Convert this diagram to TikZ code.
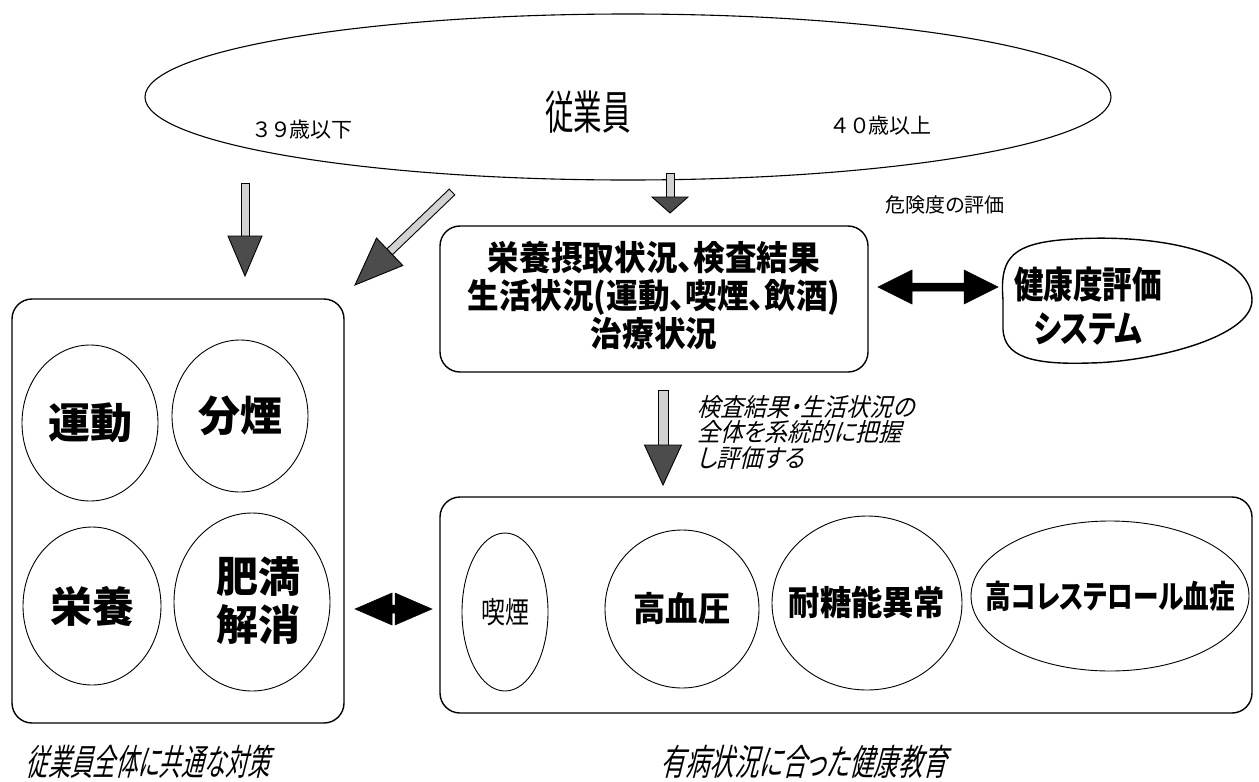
\documentclass[tikz,border=0pt]{standalone}
\usepackage{fontspec}
\setmainfont{Noto Sans CJK JP}[RawFeature=+palt]
\usetikzlibrary{shapes.geometric,calc}
\newcommand\jfs[2]{\fontsize{#1}{#2}\selectfont}
\newcommand\sx[1]{\addfontfeatures{FakeStretch=#1}}
\newcommand\slnt{\addfontfeatures{FakeSlant=0.25}}
\tikzset{
  shaftfill/.style={draw=black,line width=0.9pt,fill=gray!35},
  headfill/.style={draw=black,line width=0.9pt,fill=black!70},
  blackarrow/.style={fill=black,draw=black,line width=0.5pt},
  frame/.style={draw,rounded corners=20pt,line width=1.4pt},
  oval/.style={draw,ellipse,line width=0.9pt,inner sep=0pt},
  lbl/.style={inner sep=0pt,align=center},
}
% block arrow: start, end, shaft half width, head half width, head length
\newcommand\blockarrow[5]{%
  \coordinate (ba-h) at ($(#2)!#5!(#1)$);
  \filldraw[shaftfill] ($(#1)!#3!90:(#2)$) -- ($(ba-h)!#3!-90:(#1)$) -- ($(ba-h)!#3!90:(#1)$) -- ($(#1)!#3!-90:(#2)$) -- cycle;
  \filldraw[headfill] ($(ba-h)!#4!-90:(#1)$) -- (#2) -- ($(ba-h)!#4!90:(#1)$) -- cycle;
}
% double black arrow: a, b, shaft hw, head hw, head length
\newcommand\dblarrow[5]{%
  \coordinate (da-a) at ($(#1)!#5!(#2)$);
  \coordinate (da-b) at ($(#2)!#5!(#1)$);
  \filldraw[blackarrow] (#1) -- ($(da-a)!#4!90:(#2)$) -- ($(da-a)!#3!90:(#2)$) -- ($(da-b)!#3!-90:(#1)$) -- ($(da-b)!#4!-90:(#1)$) -- (#2) -- ($(da-b)!#4!90:(#1)$) -- ($(da-b)!#3!90:(#1)$) -- ($(da-a)!#3!-90:(#2)$) -- ($(da-a)!#4!-90:(#2)$) -- cycle;
}
\begin{document}
\begin{tikzpicture}[x=1pt,y=-1pt]
\useasboundingbox (0,0) rectangle (1259,782);
\fill[white] (0,0) rectangle (1259,782);

% top ellipse
\node[oval,line width=1.1pt,minimum width=966pt,minimum height=166pt] (emp) at (628,97) {};
\node[lbl,font={\jfs{21}{26}}] (young) at (303,130) {３\,９歳以下};
\node[lbl,font={\jfs{46}{50}\sx{0.62}}] (emptxt) at (588,112) {従業員};
\node[lbl,font={\jfs{21}{26}}] (old) at (882,126) {４\,０歳以上};

% middle box
\node[frame,minimum width=428pt,minimum height=146pt] (info) at (654,299) {};
\node[lbl,font={\jfs{34}{38}\bfseries\sx{0.93}}] (infotxt) at (654,296) {栄養摂取状況、検査結果\\生活状況(運動、喫煙、飲酒)\\治療状況};

% risk
\node[lbl,font={\jfs{20}{24}}] (risk) at (945,205) {危険度の評価};

% health evaluation blob
\draw[line width=1.4pt] (1003,300) .. controls (1000,262) and (1008,245) .. (1060,240)
  .. controls (1150,232) and (1252,250) .. (1252,300)
  .. controls (1252,338) and (1150,362) .. (1090,363)
  .. controls (1030,365) and (1005,356) .. (1003,330) -- cycle;
\coordinate (hsleft) at (998,287);
\node[lbl,font={\jfs{37}{44}\bfseries\sx{0.8}}] (hs) at (1088,306) {健康度評価\\システム};

% double arrow info <-> health system
\coordinate (dA) at (878,287);
\dblarrow{dA}{hsleft}{4pt}{17pt}{34pt}

% left box
\node[frame,minimum width=332pt,minimum height=424pt] (common) at (178,511) {};
\node[oval,minimum width=136pt,minimum height=156pt] (c1) at (90,423) {};
\node[lbl,font={\jfs{42}{46}\bfseries}] at (c1) {運動};
\node[oval,minimum width=136pt,minimum height=152pt] (c2) at (240,416) {};
\node[lbl,font={\jfs{42}{46}\bfseries}] at (c2) {分煙};
\node[oval,minimum width=138pt,minimum height=158pt] (c3) at (92,606) {};
\node[lbl,font={\jfs{42}{46}\bfseries}] at (c3) {栄養};
\node[oval,minimum width=156pt,minimum height=178pt] (c4) at (252,602) {};
\node[lbl,font={\jfs{42}{48}\bfseries}] at (258,601) {肥満\\解消};

% bottom right box
\node[frame,minimum width=812pt,minimum height=216pt] (disease) at (846,605) {};
\node[oval,minimum width=86pt,minimum height=158pt] (d1) at (505,612) {};
\node[lbl,font={\jfs{30}{34}\sx{0.8}}] at (d1) {喫煙};
\node[oval,minimum width=154pt,minimum height=158pt] (d2) at (682,609) {};
\node[lbl,font={\jfs{34}{38}\bfseries\sx{0.95}}] at (d2) {高血圧};
\node[oval,minimum width=190pt,minimum height=174pt] (d3) at (867,603) {};
\node[lbl,font={\jfs{34}{38}\bfseries\sx{0.92}}] at (d3) {耐糖能異常};
\node[oval,minimum width=278pt,minimum height=150pt] (d4) at (1110,596) {};
\node[lbl,font={\jfs{32}{36}\bfseries\sx{0.8}}] at (d4) {高コレステロール血症};

% double arrow common <-> disease
\coordinate (eA) at (355,609);
\coordinate (eB) at (432,609);
\dblarrow{eA}{eB}{4pt}{16pt}{37pt}

% block arrows
\coordinate (a1s) at (245,183); \coordinate (a1e) at (245,276);
\blockarrow{a1s}{a1e}{4pt}{17pt}{40pt}
\coordinate (a2s) at (452,192); \coordinate (a2e) at (355,285);
\blockarrow{a2s}{a2e}{4pt}{19pt}{48pt}
\coordinate (a3s) at (670,173); \coordinate (a3e) at (670,213);
\blockarrow{a3s}{a3e}{4pt}{18pt}{16pt}
\coordinate (a4s) at (663,390); \coordinate (a4e) at (663,485);
\blockarrow{a4s}{a4e}{5pt}{18.5pt}{40pt}

% italic note
\node[inner sep=0pt,align=left,anchor=west,font={\jfs{25}{25.5}\slnt\sx{0.92}}] (note) at (697,432) {検査結果・生活状況の\\全体を系統的に把握\\し評価する};

% captions
\node[lbl,font={\jfs{36}{40}\slnt\sx{0.62}}] (cap1) at (148,762) {従業員全体に共通な対策};
\node[lbl,font={\jfs{36}{40}\slnt\sx{0.68}}] (cap2) at (804,762) {有病状況に合った健康教育};
\end{tikzpicture}
\end{document}
